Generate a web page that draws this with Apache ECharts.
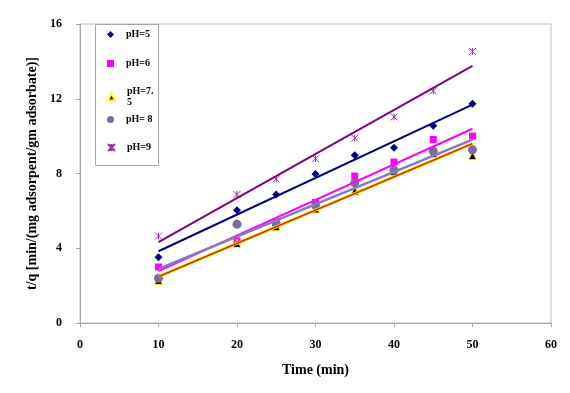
<!DOCTYPE html>
<html>
<head>
<meta charset="utf-8">
<script src="https://cdn.jsdelivr.net/npm/echarts@6/dist/echarts.min.js"></script>
<style>html,body{margin:0;padding:0;background:#fff;}#c{width:570px;height:393px;}</style>
</head>
<body>
<div id="c"></div>
<script>
var times = [10, 20, 25, 30, 35, 40, 45, 50];
var ph5 = [3.52, 6.03, 6.88, 7.97, 8.98, 9.38, 10.55, 11.73];
var ph6 = [3.0, 4.4, 5.42, 6.45, 7.86, 8.61, 9.82, 10.0];
var ph75 = [2.28, 4.26, 5.15, 6.1, 7.06, 8.1, 9.07, 8.95];
var ph8 = [2.39, 5.29, 5.3, 6.3, 7.5, 8.18, 9.2, 9.27];
var ph9 = [4.65, 6.88, 7.7, 8.79, 9.89, 11.03, 12.42, 14.53];
var seriesNames = ['pH=5', 'pH=6', 'pH=7.5', 'pH= 8', 'pH=9'];
var xTicks = [0, 10, 20, 30, 40, 50, 60];
var yTicks = [0, 4, 8, 12, 16];

var font = 'Liberation Serif';
function pairs(ys) { return times.map(function (t, i) { return [t, ys[i]]; }); }
function fit(ys) {
  var n = times.length, mx = 0, my = 0;
  for (var i = 0; i < n; i++) { mx += times[i]; my += ys[i]; }
  mx /= n; my /= n;
  var sxy = 0, sxx = 0;
  for (var j = 0; j < n; j++) { sxy += (times[j] - mx) * (ys[j] - my); sxx += (times[j] - mx) * (times[j] - mx); }
  var b = sxy / sxx, a = my - b * mx;
  var x0 = times[0], x1 = times[n - 1];
  return [[x0, a + b * x0], [x1, a + b * x1]];
}
function trend(name, ys, color, width, z) {
  return { name: name, type: 'line', data: fit(ys), symbol: 'none', silent: true, z: z || 3,
    lineStyle: { color: color, width: width }, emphasis: { disabled: true } };
}
var starX = 'path://M0,0L10,10M10,0L0,10M5,0L5,10';
var markers = [
  { data: ph5, symbol: 'diamond', size: 8, style: { color: '#000080', opacity: 1 } },
  { data: ph6, symbol: 'rect', size: 7, style: { color: '#FF00FF', opacity: 1 } },
  { data: ph75, symbol: 'triangle', size: 8, style: { color: '#000000', borderColor: '#FFFF00', borderWidth: 1, opacity: 1 } },
  { data: ph8, symbol: 'circle', size: 9, style: { color: '#7B6A9E', opacity: 1 } },
  { data: ph9, symbol: starX, size: 7, style: { color: 'rgba(0,0,0,0)', borderColor: '#993399', borderWidth: 1, opacity: 1 } }
];
var series = markers.map(function (m, i) {
  return { name: seriesNames[i], type: 'scatter', data: pairs(m.data), symbol: m.symbol, symbolSize: m.size,
    itemStyle: m.style, z: 2 };
});
series.push(trend('fit9', ph9, '#800080', 2));
series.push(trend('fit5', ph5, '#000080', 2));
series.push(trend('fit6', ph6, '#FF00FF', 2));
series.push(trend('fit8', ph8, '#8878B8', 2.5));
series.push(trend('fit75u', ph75, '#FFCC00', 3, 3));
series.push(trend('fit75', ph75, '#B83200', 1.3, 4));

var legendTops = [29, 58, 86, 114, 142];
var legends = seriesNames.map(function (n, i) {
  return { data: [n], left: 107, top: legendTops[i], orient: 'vertical', itemWidth: 7, itemHeight: 7,
    padding: 0, selectedMode: false,
    formatter: function (s) { return s === 'pH=7.5' ? 'pH=7.\n5' : s; },
    textStyle: { fontFamily: font, fontWeight: 'bold', fontSize: 10, color: '#000', padding: [0, 0, 0, 7], lineHeight: 11 } };
});

var chart = echarts.init(document.getElementById('c'), null, { renderer: 'canvas' });
chart.setOption({
  animation: false,
  backgroundColor: '#fff',
  grid: { left: 80, right: 19, top: 24, bottom: 70, show: true, borderColor: '#BFBFBF', borderWidth: 1, containLabel: false },
  legend: legends,
  graphic: [{ type: 'rect', left: 95, top: 24, shape: { width: 63, height: 141 }, style: { fill: '#fff', stroke: '#A6A6A6', lineWidth: 1 }, z: 1 }],
  xAxis: {
    type: 'value', min: xTicks[0], max: xTicks[xTicks.length - 1], interval: 10,
    name: 'Time (min)', nameLocation: 'middle', nameGap: 40,
    nameTextStyle: { fontFamily: font, fontWeight: 'bold', fontSize: 14, color: '#000' },
    axisLine: { lineStyle: { color: '#A6A6A6' } },
    axisTick: { show: true, length: 4, lineStyle: { color: '#A6A6A6' } },
    axisLabel: { fontFamily: font, fontWeight: 'bold', fontSize: 12, color: '#000', margin: 16 },
    splitLine: { show: false }
  },
  yAxis: {
    type: 'value', min: yTicks[0], max: yTicks[yTicks.length - 1], interval: 4,
    name: 't/q [min/(mg adsorpent/gm adsorbate)]', nameLocation: 'middle', nameGap: 40, nameRotate: 90,
    nameTextStyle: { fontFamily: font, fontWeight: 'bold', fontSize: 14, color: '#000' },
    axisLine: { show: true, lineStyle: { color: '#A6A6A6' } },
    axisTick: { show: true, length: 4, lineStyle: { color: '#A6A6A6' } },
    axisLabel: { fontFamily: font, fontWeight: 'bold', fontSize: 12, color: '#000', margin: 18 },
    splitLine: { show: false }
  },
  series: series
});
</script>
</body>
</html>
